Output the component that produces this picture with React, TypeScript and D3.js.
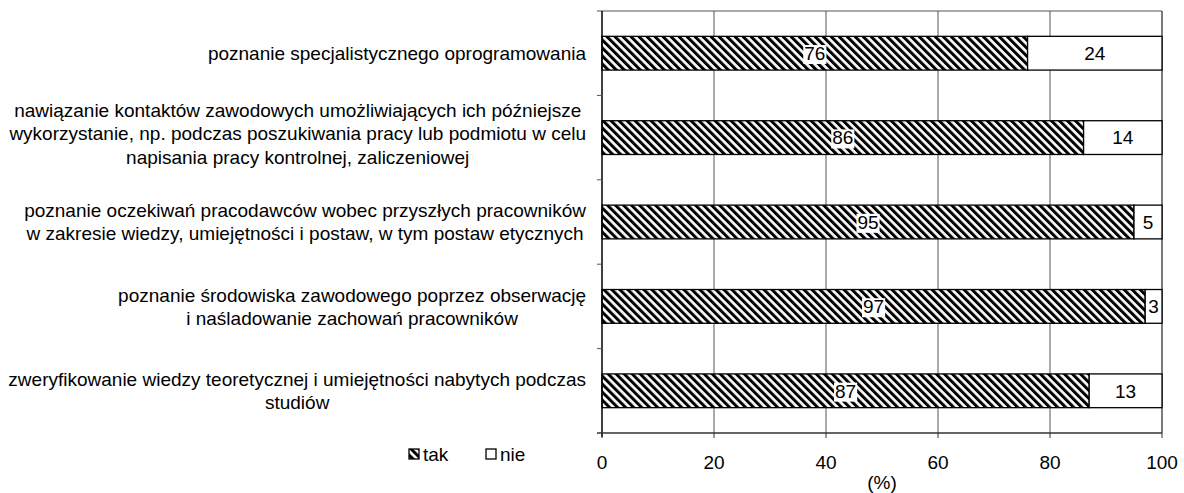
import React, { useEffect, useRef } from 'react';
import * as d3 from 'd3';

// categories, top to bottom, already split into lines as in the picture
const categories = [
  ['poznanie specjalistycznego oprogramowania'],
  [
    'nawiązanie kontaktów zawodowych umożliwiających ich późniejsze',
    'wykorzystanie, np. podczas poszukiwania pracy lub podmiotu w celu',
    'napisania pracy kontrolnej, zaliczeniowej',
  ],
  [
    'poznanie oczekiwań pracodawców wobec przyszłych pracowników',
    'w zakresie wiedzy, umiejętności i postaw, w tym postaw etycznych',
  ],
  ['poznanie środowiska zawodowego poprzez obserwację', 'i naśladowanie zachowań pracowników'],
  ['zweryfikowanie wiedzy teoretycznej i umiejętności nabytych podczas', 'studiów'],
];
const takValues = [76, 86, 95, 97, 87];
const nieValues = [24, 14, 5, 3, 13];
const xTicks = [0, 20, 40, 60, 80, 100];
const seriesNames = ['tak', 'nie'];
const axisTitle = '(%)';

const FONT = '"Liberation Sans", Arial, sans-serif';
const FS = 19;

const App = () => {
  const ref = useRef<SVGSVGElement>(null);

  useEffect(() => {
    const svg = d3.select(ref.current);
    svg.selectAll('*').remove();

    const left = 602, right = 1162, top = 11, bottom = 433;
    const x = d3.scaleLinear().domain([0, 100]).range([left, right]);
    const y = d3.scaleBand<number>().domain(d3.range(categories.length)).range([top, bottom]).paddingInner(0.6).paddingOuter(0.3);
    const band = (bottom - top) / categories.length;

    const defs = svg.append('defs');
    const pat = defs.append('pattern')
      .attr('id', 'hatch')
      .attr('patternUnits', 'userSpaceOnUse')
      .attr('width', 5.66)
      .attr('height', 5.66)
      .attr('patternTransform', 'rotate(-45)');
    pat.append('rect').attr('width', 5.66).attr('height', 5.66).attr('fill', '#fff');
    pat.append('rect').attr('width', 3).attr('height', 5.66).attr('fill', '#000');

    // frame and grid
    svg.append('line').attr('x1', 597).attr('x2', right).attr('y1', top).attr('y2', top)
      .attr('stroke', '#8c8c8c').attr('stroke-width', 1.3);
    xTicks.slice(1).forEach(t => {
      svg.append('line').attr('x1', x(t)).attr('x2', x(t)).attr('y1', top).attr('y2', bottom)
        .attr('stroke', t === 100 ? '#333' : '#555').attr('stroke-width', t === 100 ? 1.3 : 1);
    });

    // bars
    const g = svg.append('g');
    categories.forEach((_, i) => {
      const y0 = y(i)!;
      const h = y.bandwidth();
      g.append('rect').attr('x', x(0)).attr('y', y0).attr('width', x(takValues[i]) - x(0)).attr('height', h)
        .attr('fill', 'url(#hatch)').attr('stroke', '#000').attr('stroke-width', 1.3);
      g.append('rect').attr('x', x(takValues[i])).attr('y', y0).attr('width', x(takValues[i] + nieValues[i]) - x(takValues[i])).attr('height', h)
        .attr('fill', '#fff').attr('stroke', '#000').attr('stroke-width', 1.3);

      [[0, takValues[i]], [takValues[i], nieValues[i]]].forEach(([start, v]) => {
        const cx = x(start + v / 2);
        const cy = y0 + h / 2;
        const lg = g.append('g');
        const bg = lg.append('rect').attr('fill', '#fff');
        const tx = lg.append('text').attr('x', cx).attr('y', cy).attr('dy', '0.36em')
          .attr('text-anchor', 'middle').attr('font-family', FONT).attr('font-size', FS).attr('fill', '#000')
          .text(v);
        const bb = (tx.node() as SVGTextElement).getBBox();
        bg.attr('x', bb.x - 1).attr('y', bb.y + 2).attr('width', bb.width + 2).attr('height', bb.height - 2);
      });
    });

    // left axis
    svg.append('line').attr('x1', left).attr('x2', left).attr('y1', top).attr('y2', bottom + 4)
      .attr('stroke', '#000').attr('stroke-width', 1.5);
    d3.range(1, categories.length).forEach(k => {
      svg.append('line').attr('x1', 597).attr('x2', left).attr('y1', top + k * band).attr('y2', top + k * band)
        .attr('stroke', '#555').attr('stroke-width', 1);
    });

    // bottom axis
    svg.append('line').attr('x1', 597).attr('x2', right).attr('y1', bottom).attr('y2', bottom)
      .attr('stroke', '#333').attr('stroke-width', 1.5);
    xTicks.forEach(t => {
      svg.append('line').attr('x1', x(t)).attr('x2', x(t)).attr('y1', bottom).attr('y2', bottom + 5)
        .attr('stroke', '#333').attr('stroke-width', 1);
      svg.append('text').attr('x', x(t)).attr('y', bottom + 29).attr('dy', '0.36em').attr('text-anchor', 'middle')
        .attr('font-family', FONT).attr('font-size', FS).attr('fill', '#000').text(t);
    });
    svg.append('text').attr('x', (left + right) / 2).attr('y', 482).attr('dy', '0.36em').attr('text-anchor', 'middle')
      .attr('font-family', FONT).attr('font-size', FS).attr('fill', '#000').text(axisTitle);

    // category labels: lines centred inside a block that is right-aligned
    const labelRight = 586;
    const lineH = 23.3;
    categories.forEach((lines, i) => {
      const cy = y(i)! + y.bandwidth() / 2 - (lines.length > 2 ? 4 : 0);
      const tg = svg.append('g');
      const texts = lines.map((ln, j) =>
        tg.append('text').attr('y', cy + (j - (lines.length - 1) / 2) * lineH).attr('dy', '0.36em')
          .attr('text-anchor', 'middle').attr('font-family', FONT).attr('font-size', FS).attr('fill', '#000').text(ln)
      );
      const w = d3.max(texts, t => (t.node() as SVGTextElement).getComputedTextLength()) || 0;
      texts.forEach(t => t.attr('x', labelRight - w / 2));
    });

    // legend
    const legend = svg.append('g').attr('font-family', FONT).attr('font-size', FS);
    const lx = [409, 486];
    seriesNames.forEach((name, k) => {
      legend.append('rect').attr('x', lx[k]).attr('y', 449).attr('width', 10).attr('height', 10)
        .attr('fill', k === 0 ? 'url(#hatch)' : '#fff').attr('stroke', '#000').attr('stroke-width', 1.3);
      legend.append('text').attr('x', lx[k] + 14).attr('y', 454).attr('dy', '0.36em').attr('fill', '#000').text(name);
    });
  }, []);

  return <svg ref={ref} width={1184} height={493} style={{ position: 'absolute', left: 0, top: 0, background: '#fff' }} />;
};

export default App;
